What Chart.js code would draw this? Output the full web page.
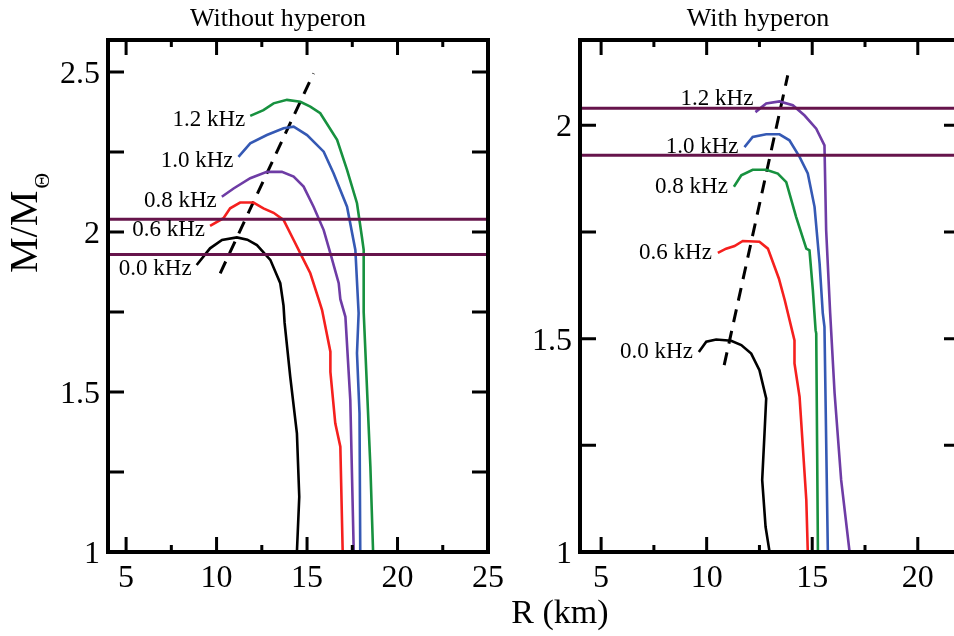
<!DOCTYPE html>
<html>
<head>
<meta charset="utf-8">
<script src="https://cdn.jsdelivr.net/npm/chart.js"></script>
<style>
html, body { margin: 0; padding: 0; background: #fff; width: 954px; height: 636px; overflow: hidden; }
#left { position: absolute; left: 0; top: 0; }
#right { position: absolute; left: 520px; top: 0; }
#xlabel { position: absolute; left: 460px; top: 592px; width: 200px; text-align: center;
  font: 34px "Liberation Serif"; line-height: 40px; color: #000; }
</style>
</head>
<body>
<canvas id="left" width="520" height="636"></canvas>
<canvas id="right" width="450" height="636"></canvas>
<div id="xlabel">R (km)</div>
<script>
const freqLabels = ['0.0 kHz', '0.6 kHz', '0.8 kHz', '1.0 kHz', '1.2 kHz'];
const obsMass = [2.04, 1.93];

// without hyperon: R (km), M/Msun
const noHypR00 = [8.9, 9.64, 10.3, 11.12, 11.7, 12.23, 12.97, 13.52, 13.7, 13.76, 14.07, 14.44, 14.57, 14.44];
const noHypM00 = [1.897, 1.949, 1.975, 1.983, 1.976, 1.959, 1.913, 1.84, 1.77, 1.716, 1.548, 1.371, 1.173, 1.0];
const noHypR06 = [9.64, 10.38, 10.75, 11.3, 12.04, 12.59, 13.15, 13.7, 14.26, 14.72, 15.18, 15.64, 15.83, 16.29, 16.29, 16.56, 16.84, 16.97];
const noHypM06 = [2.019, 2.043, 2.074, 2.092, 2.092, 2.074, 2.06, 2.038, 1.975, 1.923, 1.871, 1.79, 1.756, 1.626, 1.563, 1.402, 1.329, 1.0];
const noHypR08 = [10.29, 10.94, 11.86, 12.78, 13.61, 14.26, 14.81, 15.36, 15.92, 16.29, 16.75, 16.84, 17.12, 17.39, 17.58];
const noHypM08 = [2.11, 2.136, 2.168, 2.188, 2.188, 2.173, 2.142, 2.079, 2.006, 1.933, 1.84, 1.79, 1.735, 1.475, 1.0];
const noHypR10 = [11.21, 11.86, 12.78, 13.7, 14.26, 15.0, 15.92, 16.47, 17.21, 17.67, 17.85, 17.76, 17.9, 17.94];
const noHypM10 = [2.235, 2.277, 2.303, 2.324, 2.329, 2.303, 2.251, 2.183, 2.079, 1.944, 1.746, 1.621, 1.433, 1.0];
const noHypR12 = [11.86, 12.59, 13.15, 13.89, 14.63, 15.18, 15.73, 16.66, 17.21, 17.76, 18.03, 18.13, 18.13, 18.5, 18.65];
const noHypM12 = [2.363, 2.381, 2.402, 2.413, 2.407, 2.392, 2.371, 2.288, 2.194, 2.09, 1.985, 1.944, 1.75, 1.267, 1.0];
const noHypDashR = [10.2, 15.36];
const noHypDashM = [1.871, 2.496];

// with hyperon
const hypR00 = [9.63, 9.98, 10.45, 11.16, 11.64, 12.11, 12.5, 12.82, 12.74, 12.63, 12.79, 12.98];
const hypM00 = [1.469, 1.493, 1.498, 1.495, 1.485, 1.465, 1.426, 1.36, 1.278, 1.169, 1.059, 1.0];
const hypR06 = [10.53, 10.92, 11.32, 11.71, 12.5, 12.9, 13.42, 13.7, 14.16, 14.16, 14.4, 14.72, 14.79];
const hypM06 = [1.701, 1.711, 1.717, 1.729, 1.727, 1.711, 1.641, 1.59, 1.496, 1.442, 1.364, 1.122, 1.0];
const hypR08 = [11.29, 11.64, 12.18, 12.82, 13.37, 13.77, 14.24, 14.72, 14.87, 15.03, 15.16, 15.19, 15.27];
const hypM08 = [1.856, 1.883, 1.896, 1.896, 1.887, 1.867, 1.785, 1.711, 1.707, 1.614, 1.52, 1.512, 1.0];
const hypR10 = [11.79, 12.18, 12.82, 13.45, 13.92, 14.4, 14.79, 15.11, 15.35, 15.5, 15.58, 15.74];
const hypM10 = [1.949, 1.973, 1.979, 1.979, 1.965, 1.926, 1.887, 1.809, 1.676, 1.56, 1.528, 1.0];
const hypR12 = [12.31, 12.82, 13.45, 14.08, 14.64, 15.19, 15.58, 15.66, 15.85, 16.06, 16.37, 16.77];
const hypM12 = [2.031, 2.051, 2.056, 2.047, 2.023, 1.992, 1.953, 1.754, 1.56, 1.372, 1.169, 1.0];
const hypDashR = [10.83, 13.84];
const hypDashM = [1.438, 2.117];

// axes
const leftXRange = [4, 25], leftYRange = [1, 2.6];
const rightXRange = [4, 22], rightYRange = [1, 2.2];
const leftXTicks = [5, 10, 15, 20, 25], leftXMinor = [7.5, 12.5, 17.5, 22.5];
const leftYTicks = [1, 1.5, 2, 2.5], leftYMinor = [1.25, 1.75, 2.25];
const rightXTicks = [5, 10, 15, 20], rightXMinor = [7.5, 12.5, 17.5];
const rightYTicks = [1, 1.5, 2], rightYMinor = [1.25, 1.75];

const BLACK = '#000000', RED = '#f5201e', PURPLE = '#6e3ca5', BLUE = '#3559b4', GREEN = '#17913f';
const MAROON = '#66144b';

function pts(r, m) {
  return r.map((v, i) => ({x: v, y: m[i]}));
}

function curve(r, m, color, tag, shift) {
  return {data: pts(r, m), borderColor: color, borderWidth: 2.6, tag: tag, shift: shift};
}

function hline(v, xr) {
  return {data: [{x: xr[0], y: v}, {x: xr[1], y: v}], borderColor: MAROON, borderWidth: 3};
}

function dash(r, m) {
  return {data: pts(r, m), borderColor: BLACK, borderWidth: 3, borderDash: [13, 9]};
}

function fmt(v) {
  return String(v);
}

function makeFrame(cfg) {
  return {
    id: 'frame',
    afterDatasetsDraw(chart) {
      const ctx = chart.ctx, a = chart.chartArea;
      const x = chart.scales.x, y = chart.scales.y;
      ctx.save();

      // curve labels
      ctx.font = '23px "Liberation Serif"';
      ctx.fillStyle = '#000';
      ctx.textAlign = 'right';
      ctx.textBaseline = 'middle';
      chart.data.datasets.forEach(ds => {
        if (!ds.tag) return;
        const p = ds.data[0];
        const s = ds.shift || cfg.shift;
        ctx.fillText(ds.tag, x.getPixelForValue(p.x) + s[0], y.getPixelForValue(p.y) + s[1]);
      });

      // inward ticks
      ctx.strokeStyle = '#000';
      ctx.lineWidth = 3;
      ctx.beginPath();
      cfg.xTicks.concat(cfg.xMinor).forEach(v => {
        const px = x.getPixelForValue(v);
        const len = cfg.xTicks.includes(v) ? 15 : 7;
        ctx.moveTo(px, a.bottom); ctx.lineTo(px, a.bottom - len);
        ctx.moveTo(px, a.top); ctx.lineTo(px, a.top + len);
      });
      cfg.yTicks.concat(cfg.yMinor).forEach(v => {
        const py = y.getPixelForValue(v);
        ctx.moveTo(a.left, py); ctx.lineTo(a.left + 16, py);
        ctx.moveTo(a.right, py); ctx.lineTo(a.right - 16, py);
      });
      ctx.stroke();

      ctx.lineWidth = 4;
      ctx.strokeRect(a.left, a.top, a.right - a.left, a.bottom - a.top);

      // tick labels
      ctx.font = '32px "Liberation Serif"';
      ctx.textBaseline = 'alphabetic';
      ctx.textAlign = 'center';
      cfg.xTicks.forEach(v => ctx.fillText(fmt(v), x.getPixelForValue(v), a.bottom + 35));
      ctx.textAlign = 'right';
      cfg.yTicks.forEach(v => ctx.fillText(fmt(v), a.left - 8, y.getPixelForValue(v) + 11));

      // title
      ctx.font = '26px "Liberation Serif"';
      ctx.textAlign = 'center';
      ctx.fillText(cfg.title, cfg.titleX, 26);

      // y axis title
      if (cfg.yLabel) {
        ctx.translate(37, 273);
        ctx.rotate(-Math.PI / 2);
        ctx.textAlign = 'left';
        ctx.font = '40px "Liberation Serif"';
        ctx.fillText('M/M', 0, 0);
        const w = ctx.measureText('M/M').width;
        ctx.font = '22px "Liberation Serif"';
        ctx.fillText('\u0398', w + 2, 12);
      }
      ctx.restore();
    }
  };
}

function panel(id, datasets, xr, yr, pad, cfg) {
  return new Chart(document.getElementById(id), {
    type: 'line',
    data: {datasets: datasets},
    options: {
      responsive: false,
      animation: false,
      layout: {padding: pad},
      elements: {point: {radius: 0}, line: {tension: 0}},
      scales: {
        x: {type: 'linear', min: xr[0], max: xr[1], display: false},
        y: {type: 'linear', min: yr[0], max: yr[1], display: false}
      },
      plugins: {legend: {display: false}, tooltip: {enabled: false}}
    },
    plugins: [makeFrame(cfg)]
  });
}

panel('left', [
  hline(obsMass[0], leftXRange),
  hline(obsMass[1], leftXRange),
  curve(noHypR00, noHypM00, BLACK, freqLabels[0]),
  curve(noHypR06, noHypM06, RED, freqLabels[1]),
  curve(noHypR08, noHypM08, PURPLE, freqLabels[2]),
  curve(noHypR10, noHypM10, BLUE, freqLabels[3]),
  curve(noHypR12, noHypM12, GREEN, freqLabels[4]),
  dash(noHypDashR, noHypDashM)
], leftXRange, leftYRange, {left: 108, top: 40, right: 32, bottom: 84}, {
  title: 'Without hyperon', titleX: 278, yLabel: true, shift: [-5, 4],
  xTicks: leftXTicks, xMinor: leftXMinor, yTicks: leftYTicks, yMinor: leftYMinor
});

panel('right', [
  hline(obsMass[0], rightXRange),
  hline(obsMass[1], rightXRange),
  curve(hypR00, hypM00, BLACK, freqLabels[0]),
  curve(hypR06, hypM06, RED, freqLabels[1]),
  curve(hypR08, hypM08, GREEN, freqLabels[2]),
  curve(hypR10, hypM10, BLUE, freqLabels[3]),
  curve(hypR12, hypM12, PURPLE, freqLabels[4], [-2, -13]),
  dash(hypDashR, hypDashM)
], rightXRange, rightYRange, {left: 60, top: 40, right: 10, bottom: 84}, {
  title: 'With hyperon', titleX: 238, yLabel: false, shift: [-6, 0],
  xTicks: rightXTicks, xMinor: rightXMinor, yTicks: rightYTicks, yMinor: rightYMinor
});
</script>
</body>
</html>
